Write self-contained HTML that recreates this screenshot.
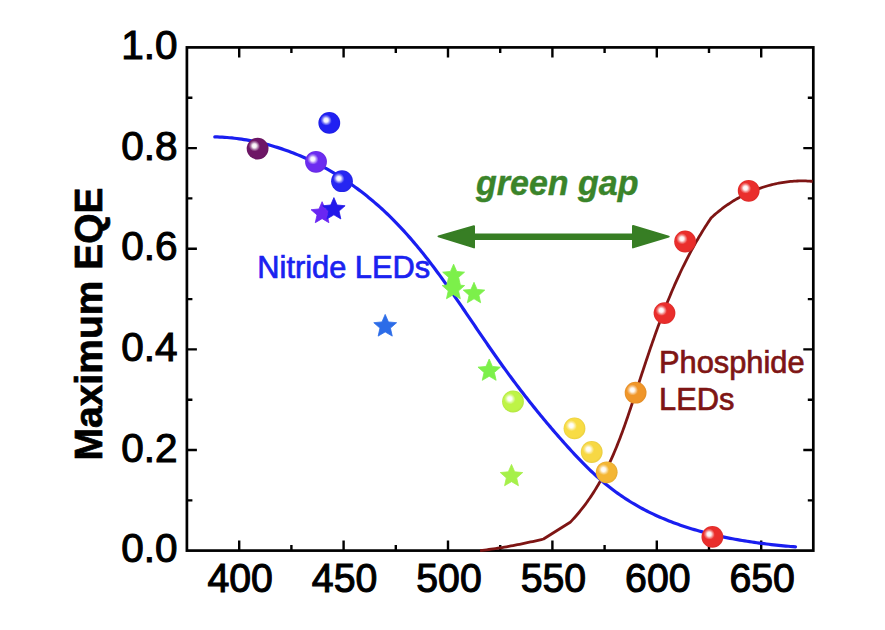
<!DOCTYPE html><html><head><meta charset="utf-8"><style>html,body{margin:0;padding:0;background:#fff;width:885px;height:630px;overflow:hidden}svg{display:block}text{font-family:"Liberation Sans",Arial,sans-serif}</style></head><body>
<svg width="885" height="630" viewBox="0 0 885 630">
<defs>
<radialGradient id="g0" cx="50%" cy="50%" r="50%" fx="38%" fy="38%"><stop offset="0" stop-color="#a873a3"/><stop offset="0.4" stop-color="#6e1666"/><stop offset="0.85" stop-color="#6e1666"/><stop offset="1" stop-color="#671560"/></radialGradient>
<radialGradient id="g1" cx="50%" cy="50%" r="50%" fx="38%" fy="38%"><stop offset="0" stop-color="#a780f6"/><stop offset="0.4" stop-color="#6c2cf0"/><stop offset="0.85" stop-color="#6c2cf0"/><stop offset="1" stop-color="#6629e2"/></radialGradient>
<radialGradient id="g2" cx="50%" cy="50%" r="50%" fx="38%" fy="38%"><stop offset="0" stop-color="#7979f7"/><stop offset="0.4" stop-color="#2020f2"/><stop offset="0.85" stop-color="#2020f2"/><stop offset="1" stop-color="#1e1ee3"/></radialGradient>
<radialGradient id="g3" cx="50%" cy="50%" r="50%" fx="38%" fy="38%"><stop offset="0" stop-color="#7d7df7"/><stop offset="0.4" stop-color="#2626f2"/><stop offset="0.85" stop-color="#2626f2"/><stop offset="1" stop-color="#2424e3"/></radialGradient>
<radialGradient id="g4" cx="50%" cy="50%" r="50%" fx="38%" fy="38%"><stop offset="0" stop-color="#d8f890"/><stop offset="0.4" stop-color="#bef446"/><stop offset="0.85" stop-color="#bef446"/><stop offset="1" stop-color="#b3e542"/></radialGradient>
<radialGradient id="g5" cx="50%" cy="50%" r="50%" fx="38%" fy="38%"><stop offset="0" stop-color="#fbea8f"/><stop offset="0.4" stop-color="#f8dc44"/><stop offset="0.85" stop-color="#f8dc44"/><stop offset="1" stop-color="#e9cf40"/></radialGradient>
<radialGradient id="g6" cx="50%" cy="50%" r="50%" fx="38%" fy="38%"><stop offset="0" stop-color="#fae88f"/><stop offset="0.4" stop-color="#f7d844"/><stop offset="0.85" stop-color="#f7d844"/><stop offset="1" stop-color="#e8cb40"/></radialGradient>
<radialGradient id="g7" cx="50%" cy="50%" r="50%" fx="38%" fy="38%"><stop offset="0" stop-color="#f8d385"/><stop offset="0.4" stop-color="#f4b634"/><stop offset="0.85" stop-color="#f4b634"/><stop offset="1" stop-color="#e5ab31"/></radialGradient>
<radialGradient id="g8" cx="50%" cy="50%" r="50%" fx="38%" fy="38%"><stop offset="0" stop-color="#f6c07f"/><stop offset="0.4" stop-color="#f0962a"/><stop offset="0.85" stop-color="#f0962a"/><stop offset="1" stop-color="#e28d27"/></radialGradient>
<radialGradient id="g9" cx="50%" cy="50%" r="50%" fx="38%" fy="38%"><stop offset="0" stop-color="#f28280"/><stop offset="0.4" stop-color="#ea2e2c"/><stop offset="0.85" stop-color="#ea2e2c"/><stop offset="1" stop-color="#dc2b29"/></radialGradient>
<radialGradient id="g10" cx="50%" cy="50%" r="50%" fx="38%" fy="38%"><stop offset="0" stop-color="#f28280"/><stop offset="0.4" stop-color="#ea2e2c"/><stop offset="0.85" stop-color="#ea2e2c"/><stop offset="1" stop-color="#dc2b29"/></radialGradient>
<radialGradient id="g11" cx="50%" cy="50%" r="50%" fx="38%" fy="38%"><stop offset="0" stop-color="#f28280"/><stop offset="0.4" stop-color="#ea2e2c"/><stop offset="0.85" stop-color="#ea2e2c"/><stop offset="1" stop-color="#dc2b29"/></radialGradient>
<radialGradient id="g12" cx="50%" cy="50%" r="50%" fx="38%" fy="38%"><stop offset="0" stop-color="#f28280"/><stop offset="0.4" stop-color="#ea2e2c"/><stop offset="0.85" stop-color="#ea2e2c"/><stop offset="1" stop-color="#dc2b29"/></radialGradient>
<radialGradient id="hl"><stop offset="0" stop-color="#fff" stop-opacity="1"/><stop offset="0.35" stop-color="#fff" stop-opacity="0.92"/><stop offset="0.7" stop-color="#fff" stop-opacity="0.35"/><stop offset="1" stop-color="#fff" stop-opacity="0"/></radialGradient>
</defs>
<g stroke="#000" stroke-width="2.7" fill="none" stroke-linecap="butt">
<rect x="186.9" y="47.4" width="626.4" height="503.2"/>
<path stroke-width="2.4" d="M239.2 550.6v-10M239.2 47.4v10M291.4 550.6v-5.5M291.4 47.4v5.5M343.6 550.6v-10M343.6 47.4v10M395.8 550.6v-5.5M395.8 47.4v5.5M448.0 550.6v-10M448.0 47.4v10M500.2 550.6v-5.5M500.2 47.4v5.5M552.4 550.6v-10M552.4 47.4v10M604.6 550.6v-5.5M604.6 47.4v5.5M656.8 550.6v-10M656.8 47.4v10M709.0 550.6v-5.5M709.0 47.4v5.5M761.2 550.6v-10M761.2 47.4v10M186.9 500.4h5.5M813.3 500.4h-5.5M186.9 450.0h10M813.3 450.0h-10M186.9 399.7h5.5M813.3 399.7h-5.5M186.9 349.4h10M813.3 349.4h-10M186.9 299.1h5.5M813.3 299.1h-5.5M186.9 248.7h10M813.3 248.7h-10M186.9 198.4h5.5M813.3 198.4h-5.5M186.9 148.1h10M813.3 148.1h-10M186.9 97.7h5.5M813.3 97.7h-5.5"/>
</g>
<g font-size="40.5" fill="#000" stroke="#000" stroke-width="1.1">
<text x="177.5" y="562.2" text-anchor="end">0.0</text>
<text x="177.5" y="461.5" text-anchor="end">0.2</text>
<text x="177.5" y="360.9" text-anchor="end">0.4</text>
<text x="177.5" y="260.2" text-anchor="end">0.6</text>
<text x="177.5" y="159.6" text-anchor="end">0.8</text>
<text x="177.5" y="58.9" text-anchor="end">1.0</text>
<text transform="translate(240.2,592) scale(0.97,1)" text-anchor="middle">400</text>
<text transform="translate(344.6,592) scale(0.97,1)" text-anchor="middle">450</text>
<text transform="translate(449.0,592) scale(0.97,1)" text-anchor="middle">500</text>
<text transform="translate(553.4,592) scale(0.97,1)" text-anchor="middle">550</text>
<text transform="translate(657.8,592) scale(0.97,1)" text-anchor="middle">600</text>
<text transform="translate(762.2,592) scale(0.97,1)" text-anchor="middle">650</text>
</g>
<text transform="translate(101.8,460.5) rotate(-90)" font-size="39" font-weight="bold" fill="#000" stroke="#000" stroke-width="0.7">Maximum EQE</text>
<path d="M480.10 550.60 L482.31 550.34 L484.52 550.07 L486.72 549.79 L488.93 549.50 L491.13 549.19 L493.33 548.88 L495.53 548.55 L497.73 548.21 L499.92 547.86 L502.12 547.51 L504.31 547.14 L506.50 546.76 L508.69 546.37 L510.88 545.97 L513.07 545.56 L515.25 545.15 L517.44 544.72 L519.62 544.29 L521.80 543.84 L523.97 543.39 L526.15 542.93 L528.33 542.47 L530.50 541.99 L532.67 541.51 L534.84 541.02 L537.01 540.53 L539.17 540.02 L541.34 539.52 L543.50 539.00 L570.20 522.30 L571.57 520.86 L572.93 519.41 L574.26 517.94 L575.57 516.47 L576.87 514.98 L578.14 513.48 L579.40 511.98 L580.63 510.46 L581.85 508.93 L583.05 507.40 L584.24 505.85 L585.40 504.29 L586.55 502.73 L587.69 501.15 L588.80 499.57 L589.90 497.97 L590.99 496.37 L592.05 494.76 L593.11 493.14 L594.14 491.51 L595.16 489.88 L596.17 488.23 L597.16 486.58 L598.14 484.92 L599.11 483.25 L600.06 481.57 L601.00 479.89 L601.92 478.20 L602.83 476.50 L603.73 474.80 L604.62 473.09 L605.49 471.37 L606.36 469.64 L607.21 467.91 L608.05 466.17 L608.88 464.43 L609.70 462.68 L610.50 460.93 L611.30 459.17 L612.09 457.40 L612.87 455.63 L613.64 453.85 L614.40 452.07 L615.15 450.28 L615.89 448.49 L616.62 446.70 L617.35 444.90 L618.07 443.09 L618.78 441.28 L619.48 439.47 L620.18 437.66 L620.87 435.84 L621.55 434.01 L622.23 432.19 L622.90 430.36 L623.57 428.52 L624.23 426.69 L624.88 424.85 L625.53 423.01 L626.18 421.16 L626.82 419.31 L627.46 417.47 L628.09 415.62 L628.72 413.76 L629.35 411.91 L629.97 410.05 L630.59 408.20 L631.21 406.34 L631.83 404.48 L632.44 402.62 L633.05 400.76 L633.66 398.89 L634.27 397.03 L634.88 395.17 L635.49 393.30 L636.10 391.44 L636.71 389.58 L637.32 387.71 L637.92 385.85 L638.53 383.99 L639.14 382.12 L639.75 380.26 L640.36 378.40 L640.97 376.53 L641.58 374.67 L642.19 372.81 L642.81 370.95 L643.42 369.09 L644.03 367.23 L644.65 365.37 L645.27 363.51 L645.89 361.65 L646.51 359.80 L647.13 357.94 L647.75 356.08 L648.38 354.23 L649.01 352.38 L649.64 350.52 L650.27 348.67 L650.90 346.82 L651.54 344.97 L652.18 343.12 L652.82 341.28 L653.47 339.43 L654.11 337.59 L654.77 335.75 L655.42 333.90 L656.08 332.06 L656.74 330.23 L657.40 328.39 L658.07 326.55 L658.74 324.72 L659.42 322.89 L660.09 321.06 L660.78 319.23 L661.47 317.41 L662.16 315.58 L662.85 313.76 L663.55 311.94 L664.26 310.12 L664.97 308.31 L665.68 306.49 L666.40 304.68 L667.12 302.88 L667.85 301.07 L668.59 299.26 L669.33 297.46 L670.07 295.66 L670.82 293.87 L671.58 292.07 L672.34 290.28 L673.11 288.49 L673.88 286.71 L674.66 284.93 L675.45 283.14 L676.24 281.37 L677.04 279.59 L677.85 277.82 L678.66 276.05 L679.48 274.29 L680.30 272.53 L681.13 270.77 L681.97 269.01 L682.82 267.26 L683.68 265.51 L684.54 263.77 L685.41 262.02 L686.28 260.28 L687.17 258.55 L688.06 256.82 L688.96 255.09 L689.87 253.37 L690.78 251.65 L691.71 249.93 L692.64 248.22 L693.58 246.51 L694.53 244.80 L695.49 243.10 L696.46 241.41 L697.44 239.71 L698.42 238.02 L699.42 236.34 L700.42 234.66 L701.44 232.98 L702.46 231.31 L703.49 229.64 L704.54 227.98 L705.59 226.32 L706.65 224.67 L707.72 223.02 L708.81 221.38 L709.90 219.74 L711.00 218.10 L712.23 216.94 L713.48 215.80 L714.75 214.67 L716.03 213.56 L717.33 212.46 L718.65 211.38 L719.98 210.31 L721.32 209.26 L722.68 208.22 L724.05 207.20 L725.44 206.20 L726.84 205.22 L728.25 204.25 L729.68 203.30 L731.12 202.36 L732.57 201.44 L734.03 200.54 L735.51 199.66 L737.00 198.80 L738.49 197.95 L740.00 197.12 L741.52 196.31 L743.05 195.52 L744.59 194.75 L746.14 193.99 L747.70 193.26 L749.27 192.54 L750.85 191.84 L752.44 191.17 L754.03 190.51 L755.63 189.87 L757.24 189.26 L758.86 188.66 L760.48 188.09 L762.11 187.53 L763.75 187.00 L765.39 186.48 L767.04 185.99 L768.70 185.52 L770.36 185.07 L772.02 184.65 L773.69 184.24 L775.37 183.86 L777.05 183.50 L778.73 183.16 L780.41 182.84 L782.10 182.55 L783.79 182.28 L785.49 182.03 L787.18 181.81 L788.88 181.61 L790.58 181.44 L792.28 181.29 L793.99 181.16 L795.69 181.05 L797.39 180.98 L799.10 180.92 L800.80 180.89 L802.51 180.89 L804.21 180.91 L805.91 180.96 L807.61 181.03 L809.31 181.13 L811.01 181.25 L812.70 181.40" fill="none" stroke="#7e1514" stroke-width="2.8" stroke-linejoin="round"/>
<path d="M214.80 136.90 L217.26 136.97 L219.72 137.06 L222.17 137.19 L224.62 137.34 L227.06 137.52 L229.50 137.73 L231.94 137.96 L234.37 138.23 L236.80 138.52 L239.22 138.83 L241.64 139.18 L244.05 139.55 L246.46 139.94 L248.87 140.36 L251.26 140.81 L253.66 141.28 L256.04 141.78 L258.42 142.31 L260.80 142.86 L263.17 143.43 L265.53 144.03 L267.89 144.65 L270.23 145.30 L272.58 145.97 L274.91 146.66 L277.24 147.38 L279.57 148.12 L281.88 148.89 L284.19 149.67 L286.49 150.48 L288.78 151.32 L291.07 152.17 L293.34 153.05 L295.61 153.95 L297.87 154.87 L300.12 155.81 L302.37 156.77 L304.60 157.76 L306.83 158.76 L309.05 159.79 L311.26 160.84 L313.45 161.90 L315.64 162.99 L317.83 164.10 L320.00 165.23 L322.16 166.37 L324.31 167.54 L326.45 168.72 L328.58 169.93 L330.70 171.15 L332.81 172.39 L334.91 173.65 L337.00 174.92 L339.08 176.22 L341.15 177.53 L343.20 178.86 L345.25 180.21 L347.28 181.57 L349.30 182.95 L351.31 184.35 L353.31 185.76 L355.29 187.19 L357.27 188.64 L359.23 190.10 L361.18 191.58 L363.12 193.07 L365.04 194.58 L366.95 196.10 L368.85 197.64 L370.73 199.19 L372.61 200.75 L374.46 202.34 L376.31 203.93 L378.14 205.54 L379.96 207.16 L381.76 208.79 L383.55 210.44 L385.32 212.10 L387.09 213.78 L388.83 215.46 L390.57 217.16 L392.29 218.87 L394.00 220.59 L395.70 222.33 L397.39 224.07 L399.06 225.83 L400.73 227.59 L402.38 229.37 L404.02 231.16 L405.65 232.96 L407.27 234.77 L408.88 236.59 L410.47 238.41 L412.06 240.25 L413.64 242.10 L415.21 243.95 L416.77 245.82 L418.32 247.69 L419.86 249.57 L421.40 251.46 L422.92 253.35 L424.44 255.26 L425.95 257.17 L427.45 259.09 L428.94 261.01 L430.43 262.94 L431.91 264.88 L433.38 266.83 L434.85 268.78 L436.31 270.74 L437.77 272.70 L439.21 274.67 L440.66 276.64 L442.10 278.62 L443.53 280.60 L444.96 282.59 L446.38 284.58 L447.80 286.57 L449.21 288.57 L450.62 290.58 L452.03 292.58 L453.43 294.59 L454.83 296.60 L456.23 298.62 L457.62 300.64 L459.01 302.66 L460.40 304.68 L461.79 306.70 L463.17 308.73 L464.56 310.76 L465.94 312.79 L467.32 314.81 L468.70 316.84 L470.08 318.88 L471.46 320.91 L472.83 322.94 L474.21 324.97 L475.59 327.00 L476.97 329.03 L478.35 331.06 L479.73 333.09 L481.11 335.11 L482.49 337.14 L483.88 339.16 L485.26 341.18 L486.65 343.20 L488.04 345.22 L489.43 347.24 L490.83 349.25 L492.23 351.26 L493.63 353.26 L495.03 355.27 L496.44 357.27 L497.85 359.26 L499.27 361.25 L500.69 363.24 L502.11 365.22 L503.54 367.20 L504.97 369.18 L506.41 371.15 L507.85 373.12 L509.29 375.08 L510.74 377.04 L512.20 379.00 L513.65 380.95 L515.12 382.90 L516.58 384.85 L518.05 386.79 L519.53 388.73 L521.01 390.66 L522.49 392.59 L523.98 394.51 L525.47 396.44 L526.97 398.35 L528.48 400.27 L529.98 402.18 L531.50 404.08 L533.01 405.99 L534.54 407.88 L536.06 409.78 L537.60 411.67 L539.13 413.56 L540.68 415.44 L542.23 417.32 L543.78 419.19 L545.34 421.06 L546.90 422.93 L548.47 424.79 L550.04 426.65 L551.62 428.51 L553.21 430.36 L554.80 432.21 L556.40 434.05 L558.00 435.89 L559.61 437.73 L561.22 439.56 L562.84 441.39 L564.46 443.21 L566.10 445.03 L567.73 446.85 L569.37 448.66 L571.02 450.47 L572.68 452.27 L574.34 454.07 L576.02 455.86 L577.70 457.64 L579.39 459.41 L581.09 461.17 L582.79 462.93 L584.52 464.67 L586.25 466.40 L587.99 468.12 L589.75 469.83 L591.52 471.52 L593.30 473.19 L595.09 474.86 L596.91 476.50 L598.73 478.13 L600.57 479.74 L602.43 481.34 L604.30 482.91 L606.18 484.47 L608.08 486.01 L610.00 487.52 L611.92 489.02 L613.87 490.49 L615.82 491.95 L617.80 493.38 L619.78 494.79 L621.78 496.17 L623.80 497.54 L625.82 498.87 L627.87 500.19 L629.92 501.48 L631.99 502.75 L634.07 503.99 L636.17 505.21 L638.27 506.41 L640.39 507.58 L642.53 508.74 L644.67 509.87 L646.83 510.98 L648.99 512.07 L651.17 513.13 L653.36 514.18 L655.56 515.20 L657.77 516.20 L659.99 517.19 L662.22 518.15 L664.46 519.09 L666.71 520.02 L668.97 520.92 L671.23 521.81 L673.51 522.67 L675.80 523.52 L678.09 524.35 L680.39 525.15 L682.70 525.95 L685.01 526.72 L687.34 527.48 L689.67 528.21 L692.01 528.93 L694.35 529.64 L696.70 530.33 L699.06 531.00 L701.42 531.65 L703.79 532.29 L706.16 532.91 L708.54 533.52 L710.92 534.11 L713.31 534.69 L715.70 535.25 L718.10 535.79 L720.50 536.33 L722.90 536.84 L725.31 537.35 L727.72 537.84 L730.13 538.31 L732.55 538.78 L734.96 539.23 L737.38 539.67 L739.81 540.09 L742.23 540.50 L744.66 540.90 L747.08 541.29 L749.51 541.67 L751.94 542.03 L754.37 542.39 L756.80 542.73 L759.23 543.06 L761.65 543.38 L764.08 543.69 L766.51 543.99 L768.94 544.28 L771.36 544.57 L773.79 544.84 L776.21 545.10 L778.63 545.35 L781.05 545.60 L783.46 545.84 L785.88 546.06 L788.29 546.28 L790.70 546.50 L793.10 546.70 L795.50 546.90" fill="none" stroke="#1a1ef0" stroke-width="3.2" stroke-linejoin="round" stroke-linecap="round"/>
<path d="M322.10 201.70 L318.96 208.98 L311.07 209.72 L317.03 214.95 L315.28 222.68 L322.10 218.64 L328.92 222.68 L327.17 214.95 L333.13 209.72 L325.24 208.98Z" fill="#6a26f2" stroke="#6a26f2" stroke-width="0.8" stroke-linejoin="round"/>
<path d="M333.90 197.60 L330.71 205.01 L322.68 205.75 L328.74 211.08 L326.96 218.95 L333.90 214.83 L340.84 218.95 L339.06 211.08 L345.12 205.75 L337.09 205.01Z" fill="#2218ea" stroke="#2218ea" stroke-width="0.8" stroke-linejoin="round"/>
<path d="M385.20 314.40 L381.96 321.93 L373.79 322.69 L379.95 328.11 L378.15 336.11 L385.20 331.92 L392.25 336.11 L390.45 328.11 L396.61 322.69 L388.44 321.93Z" fill="#2c6ce8" stroke="#2c6ce8" stroke-width="0.8" stroke-linejoin="round"/>
<path d="M477.98 367.15 L484.04 372.48 L482.26 380.35 L489.20 376.23 L496.14 380.35 L494.36 372.48 L500.42 367.15 L492.39 366.41 L489.20 359.00 L486.01 366.41ZM446.81 285.12 L442.18 285.55 L448.24 290.88 L446.46 298.75 L453.40 294.63 L460.34 298.75 L458.56 290.88 L458.99 290.50 L458.99 290.50 L464.62 285.55 L460.40 285.16 L458.63 277.33 L464.54 272.15 L456.71 271.42 L453.60 264.20 L450.49 271.42 L442.66 272.15 L448.57 277.33ZM463.25 290.11 L469.06 295.21 L467.36 302.74 L474.00 298.80 L480.64 302.74 L478.94 295.21 L484.75 290.11 L477.06 289.39 L474.00 282.30 L470.94 289.39Z" fill="#7cf04a" stroke="#7cf04a" stroke-width="0.8" stroke-linejoin="round"/>
<path d="M511.50 464.40 L508.31 471.81 L500.28 472.55 L506.34 477.88 L504.56 485.75 L511.50 481.63 L518.44 485.75 L516.66 477.88 L522.72 472.55 L514.69 471.81Z" fill="#a6f04a" stroke="#a6f04a" stroke-width="0.8" stroke-linejoin="round"/>
<circle cx="257.6" cy="148.6" r="10.9" fill="url(#g0)"/><circle cx="254.3" cy="145.8" r="5.6" fill="url(#hl)"/>
<circle cx="316.0" cy="161.8" r="10.9" fill="url(#g1)"/><circle cx="312.7" cy="159.0" r="5.6" fill="url(#hl)"/>
<circle cx="329.3" cy="122.9" r="10.9" fill="url(#g2)"/><circle cx="326.0" cy="120.1" r="5.6" fill="url(#hl)"/>
<circle cx="342.0" cy="181.2" r="10.9" fill="url(#g3)"/><circle cx="338.7" cy="178.4" r="5.6" fill="url(#hl)"/>
<circle cx="513.0" cy="401.5" r="10.9" fill="url(#g4)"/><circle cx="509.7" cy="398.7" r="5.6" fill="url(#hl)"/>
<circle cx="574.5" cy="428.4" r="10.9" fill="url(#g5)"/><circle cx="571.2" cy="425.6" r="5.6" fill="url(#hl)"/>
<circle cx="591.7" cy="452.0" r="10.9" fill="url(#g6)"/><circle cx="588.4" cy="449.2" r="5.6" fill="url(#hl)"/>
<circle cx="606.7" cy="472.3" r="10.9" fill="url(#g7)"/><circle cx="603.4" cy="469.5" r="5.6" fill="url(#hl)"/>
<circle cx="635.6" cy="392.7" r="10.9" fill="url(#g8)"/><circle cx="632.3" cy="389.9" r="5.6" fill="url(#hl)"/>
<circle cx="664.5" cy="313.1" r="10.9" fill="url(#g9)"/><circle cx="661.2" cy="310.3" r="5.6" fill="url(#hl)"/>
<circle cx="685.1" cy="241.5" r="10.9" fill="url(#g10)"/><circle cx="681.8" cy="238.7" r="5.6" fill="url(#hl)"/>
<circle cx="748.7" cy="190.8" r="10.9" fill="url(#g11)"/><circle cx="745.4" cy="188.0" r="5.6" fill="url(#hl)"/>
<circle cx="712.4" cy="536.9" r="10.9" fill="url(#g12)"/><circle cx="709.1" cy="534.1" r="5.6" fill="url(#hl)"/>
<path d="M470 236.8H637" stroke="#377e24" stroke-width="6.4"/>
<path d="M438.5 236.4L474 226.2L474 247.4Z" fill="#377e24" stroke="#377e24" stroke-width="2" stroke-linejoin="round"/>
<path d="M668.7 236.6L633 226L633 247.4Z" fill="#377e24" stroke="#377e24" stroke-width="2" stroke-linejoin="round"/>
<text transform="translate(476,194.6) scale(1,1.05)" x="0" y="0" font-size="34" font-weight="bold" font-style="italic" fill="#3a842a" stroke="#3a842a" stroke-width="0.4">green gap</text>
<text x="257.3" y="278" font-size="30.8" fill="#1a22f0" stroke="#1a22f0" stroke-width="0.7">Nitride LEDs</text>
<text x="659" y="373.4" font-size="30.8" fill="#7e1514" stroke="#7e1514" stroke-width="0.7">Phosphide</text>
<text x="659" y="410" font-size="30.8" fill="#7e1514" stroke="#7e1514" stroke-width="0.7">LEDs</text>
</svg></body></html>
